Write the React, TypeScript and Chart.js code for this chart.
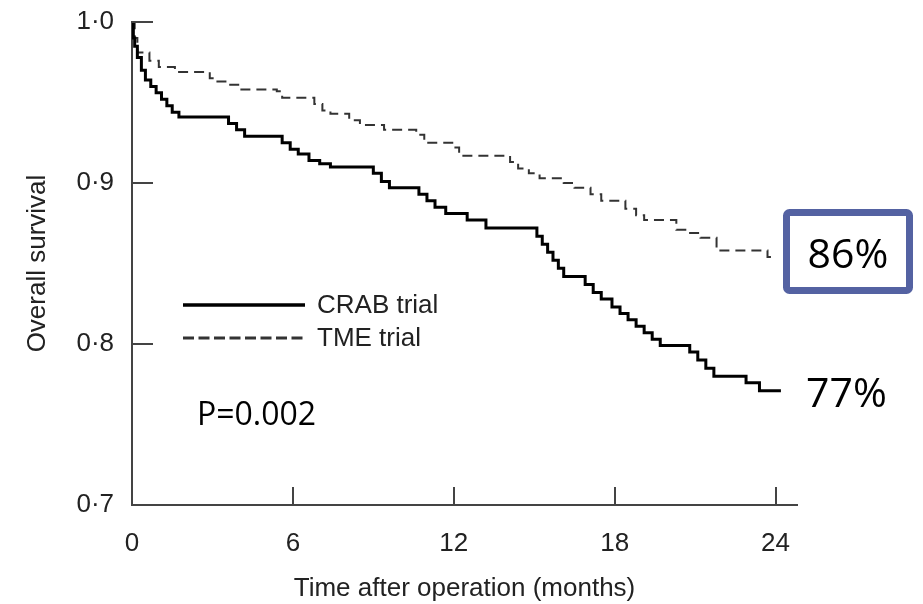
import React, { useEffect, useRef } from "react";
import { Chart, registerables } from "chart.js";

Chart.register(...registerables);

// ---- data ----
const crabMonths = [0, 0.05, 0.1, 0.2, 0.35, 0.5, 0.7, 0.9, 1.1, 1.3, 1.5, 1.75, 3.6, 3.9, 4.2, 5.6, 5.9, 6.2, 6.6, 7.0, 7.4, 9.0, 9.3, 9.6, 10.7, 11.0, 11.3, 11.7, 12.5, 13.2, 15.1, 15.3, 15.5, 15.7, 15.9, 16.1, 16.9, 17.2, 17.5, 17.9, 18.2, 18.5, 18.8, 19.1, 19.4, 19.7, 20.8, 21.1, 21.4, 21.7, 22.9, 23.4, 24.2];
const crabSurvival = [1.0, 0.99, 0.985, 0.978, 0.97, 0.964, 0.96, 0.956, 0.952, 0.948, 0.944, 0.941, 0.937, 0.933, 0.929, 0.925, 0.921, 0.918, 0.914, 0.912, 0.91, 0.906, 0.901, 0.897, 0.893, 0.889, 0.885, 0.881, 0.877, 0.872, 0.867, 0.862, 0.857, 0.852, 0.847, 0.842, 0.837, 0.832, 0.828, 0.823, 0.819, 0.815, 0.811, 0.807, 0.803, 0.799, 0.795, 0.79, 0.785, 0.78, 0.776, 0.771, 0.771];

const tmeMonths = [0, 0.1, 0.2, 0.65, 1.0, 1.6, 2.9, 3.1, 3.6, 4.0, 5.4, 5.6, 6.8, 7.1, 7.4, 8.1, 8.5, 9.4, 10.6, 10.9, 12.0, 12.2, 14.1, 14.4, 14.8, 15.2, 16.1, 16.5, 17.1, 17.5, 18.4, 18.8, 19.1, 20.3, 20.7, 21.2, 21.8, 23.7, 24.0];
const tmeSurvival = [1.0, 0.99, 0.981, 0.976, 0.972, 0.969, 0.965, 0.963, 0.961, 0.958, 0.957, 0.953, 0.949, 0.945, 0.943, 0.939, 0.936, 0.933, 0.93, 0.925, 0.922, 0.917, 0.913, 0.909, 0.906, 0.903, 0.9, 0.897, 0.893, 0.889, 0.884, 0.88, 0.877, 0.871, 0.869, 0.866, 0.858, 0.854, 0.854];

const seriesNames = ["CRAB trial", "TME trial"];
const xTickValues = [0, 6, 12, 18, 24];
const yTickValues = [0.7, 0.8, 0.9, 1.0];
const xTitle = "Time after operation (months)";
const yTitle = "Overall survival";
const pValueText = "P=0.002";
const tmeEndText = "86%";
const crabEndText = "77%";

const SANS = "'Liberation Sans', Arial, Helvetica, sans-serif";
const CAL = "'Open Sans', 'Noto Sans', sans-serif";
const AXIS_COLOR = "#444";
const TEXT_COLOR = "#222";

export default function App() {
  const canvasRef = useRef<HTMLCanvasElement | null>(null);

  useEffect(() => {
    const canvas = canvasRef.current;
    if (!canvas) return;

    const overlay = {
      id: "overlay",
      afterDraw(chart: any) {
        const ctx = chart.ctx as CanvasRenderingContext2D;
        const xs = chart.scales.x;
        const ys = chart.scales.y;
        const area = chart.chartArea;
        ctx.save();

        // inward tick marks
        ctx.strokeStyle = AXIS_COLOR;
        ctx.lineWidth = 2;
        ctx.beginPath();
        yTickValues.forEach((v) => {
          if (v === ys.min) return;
          const py = Math.round(ys.getPixelForValue(v));
          ctx.moveTo(area.left, py);
          ctx.lineTo(area.left + 21, py);
        });
        xTickValues.forEach((v) => {
          if (v === xs.min) return;
          const px = Math.round(xs.getPixelForValue(v));
          ctx.moveTo(px, area.bottom);
          ctx.lineTo(px, area.bottom - 18);
        });
        ctx.stroke();

        // legend
        const ds = chart.data.datasets;
        const lx0 = 183, lx1 = 305;
        const rows = [305, 338];
        ds.forEach((d: any, i: number) => {
          ctx.beginPath();
          ctx.strokeStyle = d.borderColor;
          ctx.lineWidth = i === 0 ? 3.5 : 3;
          ctx.setLineDash(i === 0 ? [] : [11, 4.5]);
          ctx.moveTo(lx0, rows[i]);
          ctx.lineTo(lx1, rows[i]);
          ctx.stroke();
          ctx.setLineDash([]);
          ctx.fillStyle = TEXT_COLOR;
          ctx.font = `26px ${SANS}`;
          ctx.textAlign = "left";
          ctx.textBaseline = "middle";
          ctx.fillText(d.label, 317, rows[i] + 1);
        });

        // P value
        ctx.fillStyle = "#000";
        ctx.font = `32px ${CAL}`;
        ctx.textAlign = "left";
        ctx.textBaseline = "alphabetic";
        ctx.fillText(pValueText, 197, 425);

        // 86% box
        ctx.strokeStyle = "#5462A2";
        ctx.lineWidth = 7;
        ctx.beginPath();
        (ctx as any).roundRect ? (ctx as any).roundRect(786.5, 212.5, 123, 78, 3) : ctx.rect(786.5, 212.5, 123, 78);
        ctx.stroke();
        ctx.fillStyle = "#000";
        ctx.font = `41px ${CAL}`;
        ctx.textAlign = "center";
        ctx.fillText(tmeEndText, 848, 268);
        ctx.textAlign = "left";
        ctx.fillText(crabEndText, 806, 407);

        ctx.restore();
      },
    };

    const chart = new Chart(canvas, {
      type: "line",
      data: {
        datasets: [
          {
            label: seriesNames[0],
            data: crabMonths.map((x, i) => ({ x, y: crabSurvival[i] })),
            borderColor: "#000",
            borderWidth: 3,
            stepped: "before",
            pointRadius: 0,
            fill: false,
          },
          {
            label: seriesNames[1],
            data: tmeMonths.map((x, i) => ({ x, y: tmeSurvival[i] })),
            borderColor: "#333",
            borderWidth: 2,
            borderDash: [10, 6],
            stepped: "before",
            pointRadius: 0,
            fill: false,
          },
        ],
      },
      options: {
        responsive: false,
        animation: false,
        layout: { padding: { left: 0, top: 22, right: 126, bottom: 0 } },
        plugins: {
          legend: { display: false },
          tooltip: { enabled: false },
          title: { display: false },
        },
        scales: {
          x: {
            type: "linear",
            min: 0,
            max: 24.8,
            afterFit: (s: any) => {
              s.height = 99;
              s.paddingLeft = 0;
              s.paddingRight = 0;
            },
            afterBuildTicks: (s: any) => {
              s.ticks = xTickValues.map((v) => ({ value: v }));
            },
            ticks: {
              padding: 23,
              color: TEXT_COLOR,
              font: { family: SANS, size: 26 },
              maxRotation: 0,
              autoSkip: false,
            },
            grid: { display: false, drawTicks: false },
            border: { display: true, color: AXIS_COLOR, width: 2 },
            title: {
              display: true,
              text: xTitle,
              color: TEXT_COLOR,
              font: { family: SANS, size: 26 },
              padding: { top: 0, bottom: 0 },
            },
          },
          y: {
            type: "linear",
            min: 0.7,
            max: 1.0,
            afterFit: (s: any) => {
              s.width = 132;
              s.paddingTop = 0;
              s.paddingBottom = 0;
            },
            afterBuildTicks: (s: any) => {
              s.ticks = yTickValues.map((v) => ({ value: v }));
            },
            ticks: {
              padding: 18,
              color: TEXT_COLOR,
              font: { family: SANS, size: 26 },
              callback: (v: any) => Number(v).toFixed(1).replace(".", "·"),
            },
            grid: { display: false, drawTicks: false },
            border: { display: true, color: AXIS_COLOR, width: 2 },
            title: {
              display: true,
              text: yTitle,
              color: TEXT_COLOR,
              font: { family: SANS, size: 26 },
              padding: { top: 22, bottom: 0 },
            },
          },
        },
      },
      plugins: [overlay],
    } as any);

    return () => chart.destroy();
  }, []);

  return (
    <div style={{ position: "absolute", left: 0, top: 0, width: 923, height: 604, background: "#fff" }}>
      <canvas ref={canvasRef} width={923} height={604} style={{ display: "block" }} />
    </div>
  );
}
